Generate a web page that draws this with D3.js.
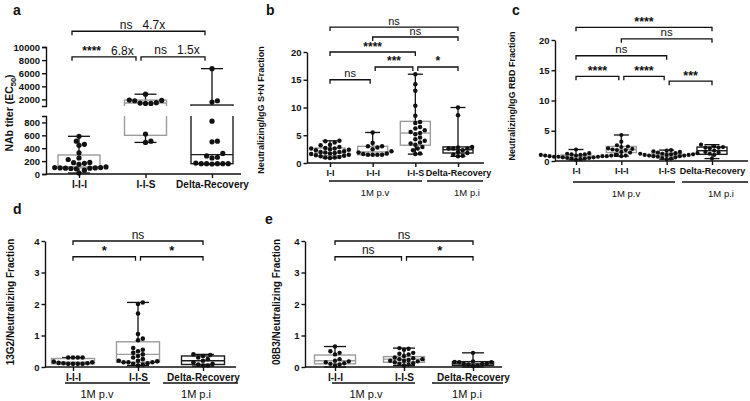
<!DOCTYPE html>
<html><head><meta charset="utf-8">
<script src="https://cdn.jsdelivr.net/npm/d3@7"></script>
<style>
body{margin:0;background:#fff}
svg{display:block}
</style></head><body>
<svg id="chart" width="750" height="401"></svg>
<script>
// ---------------- DATA ----------------
// Panel a
const catsA = ["I-I-I", "I-I-S", "Delta-Recovery"];
const valsA_III = [585, 510, 460, 445, 330, 250, 225, 180, 175, 165, 150, 110, 100, 100, 95, 95, 90, 90, 85, 80, 60, 15];
const valsA_IIS = [2800, 1900, 1850, 1800, 1500, 1450, 1400, 1400, 620, 510, 490];
const valsA_Delta = [6700, 1800, 1600, 820, 510, 500, 320, 280, 260, 250, 170, 160, 160, 160, 160, 160, 155];
// [min, q1, median, q3, max]
const statsA = [[15, 95, 110, 295, 585], [490, 600, 1450, 1900, 2800], [150, 160, 300, 1150, 6700]];
const ticksA_lower = [0, 200, 400, 600, 800];
const ticksA_upper = [2000, 4000, 6000, 8000, 10000];
const bracketsA = [[0, 1, 8500, "****", "6.8x"], [1, 2, 8500, "ns", "1.5x"], [0, 2, 12400, "ns", "4.7x"]];

// Panel b
const catsB = ["I-I", "I-I-I", "I-I-S", "Delta-Recovery"];
const valsB_II = [4.0, 3.9, 3.7, 3.3, 3.2, 2.9, 2.7, 2.6, 2.6, 2.5, 2.4, 2.3, 2.1, 2.0, 2.0, 1.9, 1.8, 1.7, 1.6, 1.5, 1.4, 1.3, 1.2, 1.1, 1.0, 1.0, 0.9];
const valsB_III = [5.5, 3.6, 3.0, 3.0, 2.8, 2.5, 2.1, 1.9, 1.7, 1.6, 1.5, 1.5, 1.5, 1.5];
const valsB_IIS = [16.0, 14.2, 13.0, 10.3, 8.5, 7.4, 7.2, 6.5, 6.2, 5.9, 5.6, 5.4, 5.2, 4.6, 4.3, 4.0, 3.7, 3.5, 3.3, 2.9, 2.6, 2.3, 1.7, 1.6];
const valsB_Delta = [10.0, 8.6, 2.9, 2.8, 2.6, 2.6, 2.6, 2.3, 2.0, 1.8, 1.5, 1.3, 1.2];
const statsB = [[0.9, 1.3, 1.8, 2.7, 4.0], [1.5, 1.5, 2.0, 3.0, 5.5], [1.6, 3.2, 5.4, 7.5, 16.0], [1.2, 1.8, 2.4, 2.9, 10.0]];
const bracketsB = [[0, 1, 15, "ns"], [1, 2, 17.3, "***"], [2, 3, 17.3, "*"], [0, 2, 20, "****"], [1, 3, 22.7, "ns"], [0, 3, 24.5, "ns"]];

// Panel c
const catsC = ["I-I", "I-I-I", "I-I-S", "Delta-Recovery"];
const valsC_II = [1.9, 1.3, 1.2, 1.1, 1.1, 1.0, 1.0, 1.0, 0.9, 0.9, 0.9, 0.8, 0.8, 0.8, 0.7, 0.7, 0.7, 0.6, 0.6, 0.5, 0.5, 0.4, 0.4, 0.3, 0.2];
const valsC_III = [4.3, 3.2, 2.6, 2.4, 2.3, 2.1, 2.0, 1.9, 1.8, 1.8, 1.5, 1.4, 1.0, 0.9, 0.8];
const valsC_IIS = [1.8, 1.7, 1.6, 1.5, 1.4, 1.3, 1.3, 1.2, 1.2, 1.1, 1.1, 1.0, 1.0, 1.0, 0.9, 0.9, 0.8, 0.8, 0.7, 0.6, 0.5, 0.4, 0.3];
const valsC_Delta = [2.7, 2.4, 2.3, 2.2, 2.2, 2.1, 1.7, 1.5, 1.4, 1.2, 1.0, 0.4];
const statsC = [[0.2, 0.5, 0.8, 1.0, 1.9], [0.8, 1.4, 1.9, 2.4, 4.3], [0.3, 0.8, 1.0, 1.3, 1.8], [0.4, 1.1, 1.7, 2.3, 2.7]];
const bracketsC = [[0, 1, 14, "****"], [1, 2, 14, "****"], [2, 3, 13.2, "***"], [0, 2, 17.4, "ns"], [1, 3, 20.2, "ns"], [0, 3, 22.1, "****"]];
const ticksBC = [0, 5, 10, 15, 20];

// Panel d
const catsD = ["I-I-I", "I-I-S", "Delta-Recovery"];
const valsD_III = [0.3, 0.3, 0.3, 0.3, 0.17, 0.15, 0.13, 0.12, 0.12, 0.1, 0.1, 0.1, 0.1];
const valsD_IIS = [2.05, 2.0, 1.7, 1.05, 0.9, 0.85, 0.6, 0.55, 0.5, 0.45, 0.4, 0.35, 0.3, 0.25, 0.2, 0.2, 0.18, 0.15, 0.15, 0.15, 0.12, 0.1, 0.08, 0.05];
const valsD_Delta = [0.4, 0.38, 0.35, 0.3, 0.25, 0.2, 0.15, 0.1, 0.08, 0.05, 0.05];
const statsD = [[0.1, 0.1, 0.15, 0.27, 0.3], [0.05, 0.15, 0.4, 0.8, 2.05], [0.03, 0.08, 0.2, 0.35, 0.4]];
const bracketsD = [[0, 1, 3.5, "*"], [1, 2, 3.5, "*"], [0, 2, 4.0, "ns"]];

// Panel e
const catsE = ["I-I-I", "I-I-S", "Delta-Recovery"];
const valsE_III = [0.65, 0.5, 0.45, 0.4, 0.25, 0.2, 0.18, 0.15, 0.12, 0.1, 0.08, 0.05];
const valsE_IIS = [0.6, 0.58, 0.55, 0.45, 0.42, 0.4, 0.35, 0.3, 0.28, 0.25, 0.25, 0.22, 0.2, 0.2, 0.18, 0.15, 0.12, 0.1, 0.08, 0.05];
const valsE_Delta = [0.45, 0.18, 0.16, 0.15, 0.15, 0.12, 0.1, 0.1, 0.08, 0.05, 0.03];
const statsE = [[0.0, 0.1, 0.2, 0.38, 0.65], [0.05, 0.15, 0.25, 0.33, 0.6], [0.0, 0.05, 0.1, 0.17, 0.45]];
const bracketsE = [[0, 1, 3.5, "ns"], [1, 2, 3.5, "*"], [0, 2, 4.0, "ns"]];
const ticksDE = [0, 1, 2, 3, 4];

const groupPV = "1M p.v";
const groupPI = "1M p.i";

// ---------------- DRAWING ----------------
const FONT = '"Liberation Sans", Arial, Helvetica, sans-serif';
const INK = "#111";
const GRAY = "#9c9c9c";
const DARK = "#1e1e1e";
const svg = d3.select("#chart");
const fmt = d3.format("d");

function swarm(vals, yfn, cx, r) {
  const pts = vals.map(v => ({ v, y: yfn(v) })).sort((a, b) => b.y - a.y);
  const placed = [];
  const d = 2 * r + 0.2;
  const step = d / 2;
  for (const p of pts) {
    let xx = cx;
    for (let i = 0; i < 80; i++) {
      const k = Math.ceil(i / 2) * (i % 2 ? 1 : -1);
      const cand = cx + k * step;
      if (placed.every(q => (q.x - cand) ** 2 + (q.y - p.y) ** 2 >= d * d * 0.85)) { xx = cand; break; }
    }
    p.x = xx;
    placed.push(p);
  }
  return pts;
}

function styleAxis(sel, fs) {
  sel.attr("font-family", FONT).attr("font-size", fs).attr("font-weight", "bold");
  sel.select(".domain").attr("stroke", INK).attr("stroke-width", 1.4);
  sel.selectAll(".tick line").attr("stroke", INK).attr("stroke-width", 1.4);
  sel.selectAll(".tick text").attr("fill", INK);
}

function txt(g, x, y, s, fs, weight, anchor) {
  return g.append("text").attr("x", x).attr("y", y).attr("font-family", FONT)
    .attr("font-size", fs).attr("font-weight", weight || "normal")
    .attr("text-anchor", anchor || "middle").attr("fill", INK).text(s);
}

function drawBox(g, cx, st, yfn, bw, cw, col) {
  const [mn, q1, md, q3, mx] = st;
  g.append("line").attr("x1", cx).attr("x2", cx).attr("y1", yfn(q3)).attr("y2", yfn(mx)).attr("stroke", INK).attr("stroke-width", 1.3);
  g.append("line").attr("x1", cx).attr("x2", cx).attr("y1", yfn(q1)).attr("y2", yfn(mn)).attr("stroke", INK).attr("stroke-width", 1.3);
  g.append("line").attr("x1", cx - cw / 2).attr("x2", cx + cw / 2).attr("y1", yfn(mx)).attr("y2", yfn(mx)).attr("stroke", INK).attr("stroke-width", 1.3);
  g.append("line").attr("x1", cx - cw / 2).attr("x2", cx + cw / 2).attr("y1", yfn(mn)).attr("y2", yfn(mn)).attr("stroke", INK).attr("stroke-width", 1.3);
  g.append("rect").attr("x", cx - bw / 2).attr("y", yfn(q3)).attr("width", bw).attr("height", Math.max(0, yfn(q1) - yfn(q3)))
    .attr("fill", "none").attr("stroke", col).attr("stroke-width", 1.4);
  g.append("line").attr("x1", cx - bw / 2).attr("x2", cx + bw / 2).attr("y1", yfn(md)).attr("y2", yfn(md)).attr("stroke", col).attr("stroke-width", 1.4);
}

function drawBrackets(g, list, xpos, yfn, cfg) {
  list.forEach((b, idx) => {
    const [i, j, lev] = b;
    const yy = yfn(lev);
    let x1 = xpos(i), x2 = xpos(j);
    list.forEach((o, k) => {
      if (k === idx) return;
      const oy = yfn(o[2]);
      if (Math.abs(oy - yy) < 13) {
        if (o[1] === i) x1 += 2.5;
        if (o[0] === j) x2 -= 2.5;
      }
    });
    g.append("path").attr("d", `M${x1},${yy + 4}V${yy}H${x2}V${yy + 4}`)
      .attr("fill", "none").attr("stroke", INK).attr("stroke-width", 1.3);
    const label = b[3];
    const isStar = label.indexOf("*") === 0;
    const t = g.append("text").attr("x", (x1 + x2) / 2 + (cfg.dx || 0)).attr("y", yy - (isStar ? 1.5 : 2.5))
      .attr("font-family", FONT).attr("text-anchor", "middle").attr("fill", INK)
      .attr("font-size", isStar ? cfg.starFs : cfg.nsFs).attr("font-weight", isStar ? "bold" : "normal")
      .attr("xml:space", "preserve");
    t.append("tspan").text(label);
    if (b[4]) t.append("tspan").attr("font-size", cfg.nsFs).attr("font-weight", "normal").text("   " + b[4]);
  });
}

// ---------- Panel a ----------
(function () {
  const g = svg.append("g");
  const axisX = 46;
  const yLo = d3.scaleLinear().domain([0, 900]).range([174, 116]);
  const yHi = d3.scaleLinear().domain([1000, 10000]).range([106, 47]);
  const yA = v => (v <= 950 ? yLo(v) : yHi(v));
  const x = d3.scalePoint().domain(catsA).range([79, 212]);

  const defs = svg.append("defs");
  defs.append("clipPath").attr("id", "clipLo").append("rect").attr("x", 0).attr("y", 116).attr("width", 250).attr("height", 80);
  defs.append("clipPath").attr("id", "clipHi").append("rect").attr("x", 0).attr("y", 0).attr("width", 250).attr("height", 106);

  styleAxis(g.append("g").attr("transform", `translate(${axisX},0)`)
    .call(d3.axisLeft(yLo).tickValues(ticksA_lower).tickFormat(fmt).tickSize(4).tickSizeOuter(4).tickPadding(2)), 9.5);
  styleAxis(g.append("g").attr("transform", `translate(${axisX},0)`)
    .call(d3.axisLeft(yHi).tickValues(ticksA_upper).tickFormat(fmt).tickSize(4).tickSizeOuter(4).tickPadding(2)), 9.5);

  g.append("line").attr("x1", axisX).attr("x2", 241).attr("y1", yLo(0)).attr("y2", yLo(0)).attr("stroke", INK).attr("stroke-width", 1.4);
  const xa = g.append("g").attr("transform", `translate(0,${yLo(0)})`)
    .call(d3.axisBottom(x).tickSize(4).tickSizeOuter(0).tickPadding(3));
  xa.select(".domain").remove();
  styleAxis(xa, 10);

  const cols = [GRAY, GRAY, DARK];
  const gLo = g.append("g").attr("clip-path", "url(#clipLo)");
  const gHi = g.append("g").attr("clip-path", "url(#clipHi)");
  catsA.forEach((c, i) => {
    drawBox(gLo, x(c), statsA[i], yLo, 42, 22, cols[i]);
    drawBox(gHi, x(c), statsA[i], yHi, 42, 22, cols[i]);
  });
  [valsA_III, valsA_IIS, valsA_Delta].forEach((vals, i) => {
    const pts = swarm(vals, yA, x(catsA[i]), 2.6);
    g.selectAll(null).data(pts).join("circle").attr("cx", d => d.x).attr("cy", d => d.y).attr("r", 2.6).attr("fill", INK);
  });

  const yBr = v => yHi(v);
  drawBrackets(g, bracketsA, i => x(catsA[i]) - 7, yBr, { starFs: 12, nsFs: 12, dx: 4 });

  const tt = g.append("text").attr("transform", "translate(13,113) rotate(-90)")
    .attr("font-family", FONT).attr("font-size", 10.5).attr("font-weight", "bold").attr("text-anchor", "middle").attr("fill", INK);
  tt.append("tspan").text("NAb titer (EC");
  tt.append("tspan").attr("font-size", 7.5).attr("dy", 2.5).text("50");
  tt.append("tspan").attr("dy", -2.5).text(")");

  txt(g, 13, 15, "a", 14, "bold", "start");
})();

// ---------- Generic panel ----------
function panel(cfg) {
  const g = svg.append("g");
  const y = d3.scaleLinear().domain(cfg.yDomain).range(cfg.yRange);
  const x = d3.scalePoint().domain(cfg.cats).range(cfg.xRange);
  styleAxis(g.append("g").attr("transform", `translate(${cfg.axisX},0)`)
    .call(d3.axisLeft(y).tickValues(cfg.ticks).tickFormat(fmt).tickSize(3.5).tickSizeOuter(0).tickPadding(2)), cfg.tickFs);
  const y0 = y(cfg.yDomain[0]);
  g.append("line").attr("x1", cfg.axisX).attr("x2", cfg.xEnd).attr("y1", y0).attr("y2", y0).attr("stroke", INK).attr("stroke-width", 1.4);
  const xa = g.append("g").attr("transform", `translate(0,${y0})`)
    .call(d3.axisBottom(x).tickSize(4).tickSizeOuter(0).tickPadding(3));
  xa.select(".domain").remove();
  styleAxis(xa, cfg.catFs);

  cfg.cats.forEach((c, i) => drawBox(g, x(c), cfg.stats[i], y, cfg.boxW, cfg.capW, cfg.cols[i]));
  cfg.values.forEach((vals, i) => {
    const pts = swarm(vals, y, x(cfg.cats[i]), cfg.r);
    g.selectAll(null).data(pts).join("circle").attr("cx", d => d.x).attr("cy", d => d.y).attr("r", cfg.r).attr("fill", INK);
  });
  drawBrackets(g, cfg.brackets, i => x(cfg.cats[i]), y, { starFs: cfg.starFs, nsFs: cfg.nsFs });

  cfg.groups.forEach(gr => {
    g.append("line").attr("x1", gr.x1).attr("x2", gr.x2).attr("y1", cfg.groupY).attr("y2", cfg.groupY).attr("stroke", INK).attr("stroke-width", 1.3);
    txt(g, gr.tx, cfg.groupTextY, gr.label, cfg.groupFs, "normal");
  });

  g.append("text").attr("transform", `translate(${cfg.titleX},${cfg.titleY}) rotate(-90)`)
    .attr("font-family", FONT).attr("font-size", cfg.titleFs).attr("font-weight", "bold").attr("text-anchor", "middle").attr("fill", INK)
    .text(cfg.title);
  txt(g, cfg.letter[0], cfg.letter[1], cfg.letter[2], 14, "bold", "start");
}

panel({
  cats: catsB, values: [valsB_II, valsB_III, valsB_IIS, valsB_Delta], stats: statsB, brackets: bracketsB,
  yDomain: [0, 20], yRange: [163, 52], xRange: [330, 458], axisX: 307, xEnd: 484, ticks: ticksBC,
  tickFs: 9.5, catFs: 9, starFs: 12, nsFs: 11, boxW: 30, capW: 15, r: 2.25,
  cols: [GRAY, GRAY, GRAY, DARK],
  groups: [{ x1: 329, x2: 422, tx: 375, label: groupPV }, { x1: 427, x2: 483, tx: 467, label: groupPI }],
  groupY: 181, groupTextY: 196, groupFs: 9.5,
  title: "Neutralizing/IgG S+N Fraction", titleX: 264, titleY: 110, titleFs: 9,
  letter: [266, 15, "b"]
});

panel({
  cats: catsC, values: [valsC_II, valsC_III, valsC_IIS, valsC_Delta], stats: statsC, brackets: bracketsC,
  yDomain: [0, 20], yRange: [161, 40], xRange: [576, 712], axisX: 555, xEnd: 748, ticks: ticksBC,
  tickFs: 9.5, catFs: 9, starFs: 12.5, nsFs: 11.5, boxW: 30, capW: 15, r: 2.1,
  cols: [GRAY, GRAY, GRAY, DARK],
  groups: [{ x1: 573, x2: 675, tx: 626, label: groupPV }, { x1: 682, x2: 748, tx: 721, label: groupPI }],
  groupY: 182, groupTextY: 197, groupFs: 9.5,
  title: "Neutralizing/IgG RBD Fraction", titleX: 515, titleY: 96, titleFs: 9,
  letter: [512, 15, "c"]
});

panel({
  cats: catsD, values: [valsD_III, valsD_IIS, valsD_Delta], stats: statsD, brackets: bracketsD,
  yDomain: [0, 4], yRange: [367, 241], xRange: [73, 203], axisX: 45, xEnd: 236, ticks: ticksDE,
  tickFs: 9.5, catFs: 10, starFs: 13, nsFs: 12, boxW: 43, capW: 22, r: 2.3,
  cols: [GRAY, GRAY, DARK],
  groups: [{ x1: 65, x2: 150, tx: 97, label: groupPV }, { x1: 163, x2: 238, tx: 196, label: groupPI }],
  groupY: 383, groupTextY: 398, groupFs: 11,
  title: "13G2/Neutralizing Fraction", titleX: 14, titleY: 302, titleFs: 10,
  letter: [13, 214, "d"]
});

panel({
  cats: catsE, values: [valsE_III, valsE_IIS, valsE_Delta], stats: statsE, brackets: bracketsE,
  yDomain: [0, 4], yRange: [367, 241], xRange: [335, 473], axisX: 305, xEnd: 502, ticks: ticksDE,
  tickFs: 9.5, catFs: 10, starFs: 13, nsFs: 12, boxW: 41, capW: 22, r: 2.2,
  cols: [GRAY, GRAY, DARK],
  groups: [{ x1: 332, x2: 415, tx: 366, label: groupPV }, { x1: 432, x2: 503, tx: 467, label: groupPI }],
  groupY: 383, groupTextY: 398, groupFs: 11,
  title: "08B3/Neutralizing Fraction", titleX: 280, titleY: 302, titleFs: 10,
  letter: [265, 224, "e"]
});
</script>
</body></html>
